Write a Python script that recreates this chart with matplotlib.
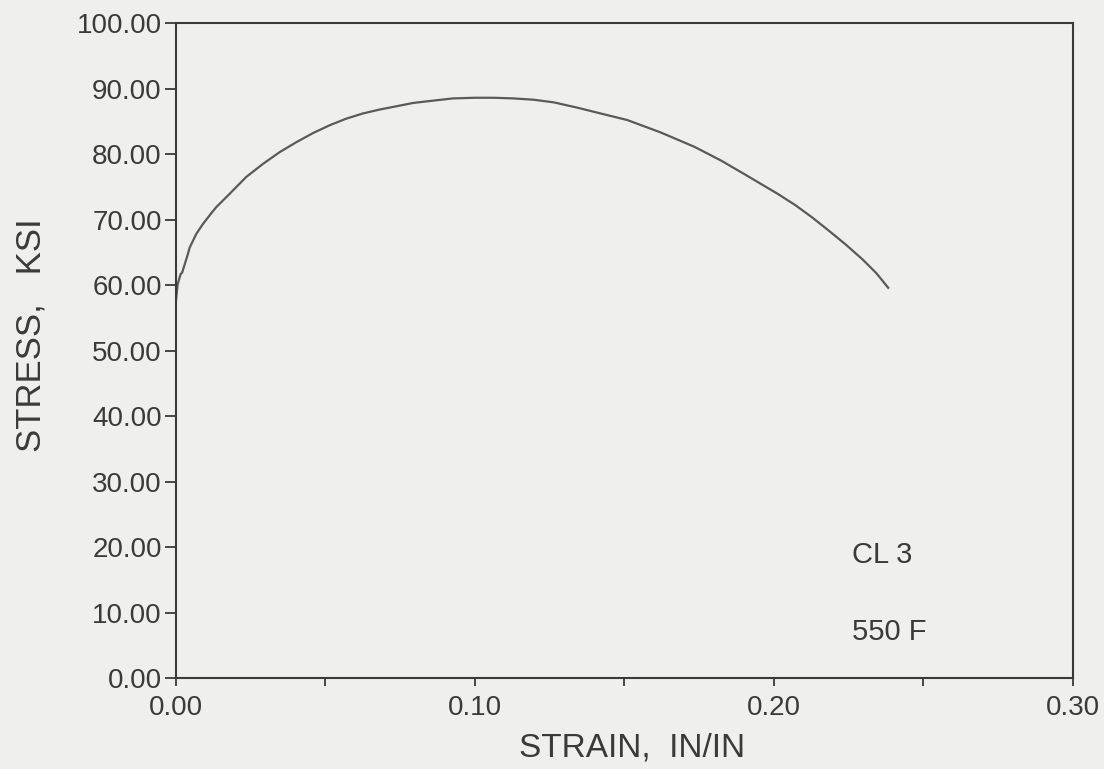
import matplotlib
matplotlib.use("Agg")
import matplotlib.pyplot as plt
from matplotlib.ticker import FixedLocator

# Data
strain = [0.0, 0.0, 0.0007, 0.0017, 0.0022, 0.0041, 0.0047, 0.0069, 0.0091, 0.0113,
          0.0136, 0.018, 0.0236, 0.0292, 0.0348, 0.0403, 0.0459, 0.0515, 0.0570,
          0.0626, 0.0682, 0.0738, 0.0793, 0.0849, 0.0927, 0.1000, 0.1064, 0.1130,
          0.1197, 0.1264, 0.1342, 0.1421, 0.1510, 0.1622, 0.1735, 0.1824, 0.1903,
          0.2014, 0.2072, 0.2126, 0.2184, 0.2240, 0.2297, 0.2343, 0.2382]
stress = [52.0, 57.0, 60.1, 61.7, 61.9, 64.7, 65.7, 67.8, 69.3, 70.6,
          71.9, 73.9, 76.5, 78.5, 80.3, 81.8, 83.2, 84.4, 85.4,
          86.2, 86.8, 87.3, 87.8, 88.1, 88.5, 88.6, 88.6, 88.5,
          88.3, 87.9, 87.1, 86.2, 85.2, 83.3, 81.1, 79.0, 76.9,
          73.9, 72.2, 70.4, 68.3, 66.2, 63.9, 61.8, 59.6]

x_ticks = [0.00, 0.10, 0.20, 0.30]
x_minor = [0.05, 0.15, 0.25]
y_ticks = [0, 10, 20, 30, 40, 50, 60, 70, 80, 90, 100]
annotations = ["CL 3", "550 F"]

plt.rcParams['font.family'] = ['Liberation Sans', 'DejaVu Sans']

bg = '#efefed'
ink = '#3a3a3a'
fig = plt.figure(figsize=(11.04, 7.69), dpi=100, facecolor=bg)
ax = fig.add_axes([0.159, 0.118, 0.813, 0.852], facecolor=bg)

ax.plot(strain, stress, color='#5a5a5a', linewidth=1.6, solid_joinstyle='round')

ax.set_xlim(0, 0.30)
ax.set_ylim(0, 100)
ax.xaxis.set_major_locator(FixedLocator(x_ticks))
ax.xaxis.set_minor_locator(FixedLocator(x_minor))
ax.yaxis.set_major_locator(FixedLocator(y_ticks))
ax.set_xticklabels([f"{v:.2f}" for v in x_ticks])
ax.set_yticklabels([f"{v:.2f}" for v in y_ticks])

for s in ax.spines.values():
    s.set_color(ink)
    s.set_linewidth(1.5)

ax.tick_params(axis='x', which='both', direction='out', length=6, width=1.3,
               color=ink, labelsize=20, labelcolor=ink, pad=6, top=False)
ax.tick_params(axis='y', which='both', direction='out', length=8, width=1.3,
               color=ink, labelsize=20, labelcolor=ink, pad=2, right=False)

ax.set_xlabel("STRAIN,  IN/IN", fontsize=24, color=ink, va='center', ha='center')
ax.xaxis.set_label_coords(0.509, -0.107)
ax.set_ylabel("STRESS,   KSI", fontsize=25, color=ink, va='center', ha='center')
ax.yaxis.set_label_coords(-0.161, 0.524)

ax.text(0.226, 18.8, annotations[0], fontsize=21, color=ink, va='center', ha='left')
ax.text(0.226, 7.0, annotations[1], fontsize=21, color=ink, va='center', ha='left')

fig.savefig("out.png", dpi=100, facecolor=bg)
